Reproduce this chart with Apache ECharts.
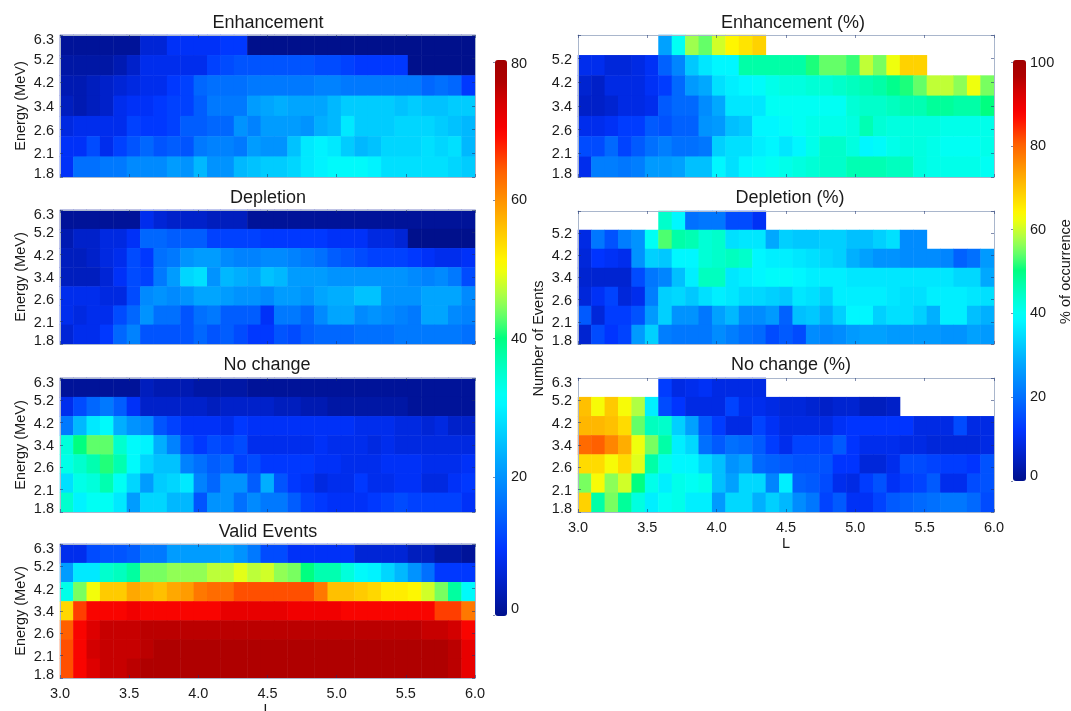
<!DOCTYPE html>
<html><head><meta charset="utf-8">
<style>html,body{margin:0;padding:0;background:#fff}#c{width:1071px;height:711px}</style>
<script src="https://cdn.jsdelivr.net/npm/echarts@6/dist/echarts.min.js"></script>
</head><body><div id="c"></div>
<script>
const energyLabels = ['1.8','2.1','2.6','3.4','4.2','5.2','6.3'];
const lTicks = [3.0,3.5,4.0,4.5,5.0,5.5,6.0];
const n = null;
// rows top (6.3 MeV) to bottom (1.8 MeV), 31 L bins per row
const enhancement = [
[1,1,1,1,1,1,6,6,9,9,9,9,10,10,0,0,0,0,0,0,0,0,0,0,0,0,0,0,0,0,0],
[2,2,2,2,3,5,8,8,8,8,8,11,12,13,13,13,13,13,13,12,12,11,10,10,10,10,0,0,0,0,0],
[3,3,4,5,6,7,8,8,10,11,15,16,16,16,17,17,17,17,17,18,18,17,17,17,17,17,17,15,16,15,10],
[4,3,4,5,8,9,9,10,11,11,14,17,17,17,21,22,23,22,22,22,24,26,26,26,26,25,26,25,25,26,26],
[7,8,8,8,8,11,10,10,11,14,14,15,15,20,18,21,21,21,20,23,24,29,26,26,26,27,27,27,26,25,24],
[9,9,12,8,11,13,15,13,14,13,17,18,18,17,21,20,20,25,29,30,29,26,24,25,27,27,27,28,27,28,24],
[9,16,16,17,17,19,19,19,21,20,24,20,20,24,25,26,26,27,29,30,31,31,31,30,28,28,28,28,28,27,26]];
const depletion = [
[1,1,1,1,1,1,8,6,5,5,5,4,4,4,1,1,1,1,1,1,1,1,1,1,1,1,1,1,1,1,1],
[3,5,5,7,7,9,15,15,14,14,14,11,11,11,11,10,10,10,10,10,9,9,9,7,7,6,0,0,0,0,0],
[4,4,5,7,8,12,10,16,17,20,21,21,19,18,18,19,19,18,17,16,14,13,12,11,11,11,10,9,8,8,9],
[4,4,4,6,9,12,11,17,21,27,28,20,24,23,22,25,24,21,21,21,20,20,20,20,20,20,19,18,19,17,12],
[8,8,8,7,7,12,19,20,19,20,22,22,21,20,20,19,21,21,20,22,23,23,25,25,20,20,20,22,22,22,19],
[8,7,8,8,12,15,20,16,16,13,16,17,14,14,14,9,17,17,15,19,22,22,19,20,19,18,17,22,22,19,18],
[6,8,8,10,15,18,13,13,13,13,15,13,14,12,10,10,13,12,14,15,15,15,16,16,16,17,17,17,17,17,16]];
const noChange = [
[1,1,1,1,1,1,4,3,3,3,2,2,2,2,1,1,1,1,1,1,1,1,1,1,1,1,1,1,1,1,1],
[8,12,15,17,14,9,5,5,5,5,5,4,5,5,5,5,4,4,3,3,2,2,2,2,2,2,1,1,1,1,1],
[17,24,29,31,23,20,19,13,11,9,9,9,8,10,9,9,9,9,9,9,9,9,8,8,8,7,7,6,7,5,5],
[34,40,43,43,35,31,30,23,18,12,10,12,11,12,8,8,8,8,8,9,8,8,8,7,8,7,7,7,7,7,7],
[33,35,37,41,37,31,27,25,25,18,16,14,15,11,12,10,10,10,10,9,9,8,8,8,9,9,9,8,8,8,9],
[28,33,34,37,32,27,21,26,27,29,18,15,20,20,14,23,13,10,9,7,8,8,10,8,8,9,9,7,7,9,10],
[35,30,32,32,29,21,27,27,24,24,13,20,20,16,19,17,17,14,11,10,9,9,9,10,11,12,11,11,11,11,9]];
const validEvents = [
[8,8,12,13,13,14,17,17,21,21,21,21,22,20,17,12,12,9,9,9,9,9,6,6,6,6,4,4,2,2,1],
[21,29,29,35,36,38,44,44,45,45,45,47,47,49,47,48,45,44,40,37,37,34,31,30,27,24,20,16,10,10,10],
[33,44,50,55,55,58,57,56,58,59,62,63,63,65,65,65,65,65,65,62,56,56,55,54,52,52,51,48,44,38,31],
[54,66,70,70,70,71,70,70,70,70,70,70,72,72,72,72,72,71,71,71,71,70,70,70,70,70,70,70,66,66,62],
[64,70,73,75,75,75,76,76,76,76,76,76,76,76,76,76,76,76,76,76,76,76,76,76,76,76,76,75,75,74,70],
[65,70,74,75,75,75,76,77,77,77,77,77,77,77,77,77,77,77,77,77,77,77,77,77,77,77,77,77,77,76,72],
[65,70,73,75,75,76,77,77,77,77,77,77,77,77,77,77,77,77,77,77,77,77,77,77,77,77,77,77,77,76,72]];
const enhancementPct = [
[n,n,n,n,n,n,27,40,57,54,60,64,66,68,n,n,n,n,n,n,n,n,n,n,n,n,n,n,n,n,n],
[10,10,8,8,9,11,18,23,32,36,38,38,47,47,47,47,47,51,54,54,52,59,55,62,68,68,n,n,n,n,n],
[7,6,9,9,9,11,13,19,26,28,35,37,38,39,41,42,42,43,43,44,45,46,47,49,51,54,59,59,56,62,55],
[6,6,7,9,9,10,17,19,19,24,28,36,36,36,40,40,40,40,40,40,43,44,44,45,46,46,48,48,47,47,50],
[10,10,11,13,13,17,16,18,18,25,26,31,32,38,38,39,40,41,41,41,42,46,43,42,42,42,42,41,41,41,41],
[15,15,19,14,17,20,22,20,20,21,33,35,35,37,38,36,38,41,44,44,42,38,39,41,42,42,41,40,40,40,41],
[10,22,22,21,22,26,26,27,31,31,38,35,38,39,40,41,42,43,44,44,46,46,46,45,45,42,41,41,41,41,40]];
const depletionPct = [
[n,n,n,n,n,n,44,38,20,21,21,15,15,11,n,n,n,n,n,n,n,n,n,n,n,n,n,n,n,n,n],
[9,21,16,22,25,40,53,47,46,43,44,35,36,36,28,33,32,32,33,33,31,31,33,35,24,24,n,n,n,n,n],
[8,12,11,10,25,33,32,38,38,43,44,45,44,38,37,37,36,35,34,33,29,27,25,25,24,24,24,23,18,20,26],
[7,7,7,7,15,21,23,31,37,45,45,36,37,38,39,39,38,37,37,37,36,36,36,36,36,36,36,36,34,34,28],
[8,11,14,8,10,22,33,34,32,35,37,36,34,34,33,32,36,35,33,37,37,37,37,36,35,35,37,37,37,36,35],
[17,8,13,13,16,26,33,25,25,21,27,30,24,24,26,18,31,32,29,33,38,38,33,35,35,33,29,37,37,31,29],
[7,15,12,14,26,33,22,21,21,21,24,22,20,19,15,17,15,24,23,24,26,27,27,26,26,26,26,25,25,27,26]];
const noChangePct = [
[n,n,n,n,n,n,13,9,10,11,9,9,9,9,n,n,n,n,n,n,n,n,n,n,n,n,n,n,n,n,n],
[70,63,69,63,58,37,15,12,9,9,9,14,10,10,9,8,8,7,6,7,7,5,5,6,n,n,n,n,n,n,n],
[71,71,70,67,54,45,44,33,27,17,13,9,9,14,11,9,9,9,9,11,12,12,12,12,12,9,9,9,15,9,9],
[79,80,76,72,62,55,47,37,34,20,17,20,19,17,13,10,14,14,14,17,12,10,10,10,9,9,8,8,8,8,9],
[67,67,63,67,61,47,41,38,38,34,31,25,27,19,18,17,16,16,16,12,12,8,8,10,15,15,14,13,13,12,16],
[55,63,56,60,50,41,37,41,40,41,31,27,34,34,23,37,18,17,15,10,9,13,16,11,13,14,17,10,10,15,16],
[68,47,55,48,42,37,40,41,37,37,26,34,34,29,33,30,24,21,14,17,11,11,14,17,18,19,20,21,21,19,15]];
const titles = ['Enhancement','Depletion','No change','Valid Events','Enhancement (%)','Depletion (%)','No change (%)'];
const panelValues = [enhancement,depletion,noChange,validEvents,enhancementPct,depletionPct,noChangePct];
const lBins = enhancement[0].map((_,i)=>'b'+i);
const breakFractions = [0,.06,.12,.2,.28,.33,.39,.45,.5,.53,.57,.63,.7,.8,.87,.93,.96,1];
const breakColors = ['#00108c','#0020c8','#0034ff','#0070ff','#00a8ff','#00d0ff','#00ffff','#00ffc0','#00ff80','#50ff70','#a0ff50','#ffff00','#ffc000','#ff6000','#ff0000','#d00000','#b00000','#a00000'];
function rampColor(t){
 let k=0; while(k<breakFractions.length-2&&t>breakFractions[k+1])k++;
 const f=(t-breakFractions[k])/(breakFractions[k+1]-breakFractions[k]);
 const a=parseInt(breakColors[k].slice(1),16),b=parseInt(breakColors[k+1].slice(1),16);
 const ch=s=>Math.round(((a>>s)&255)*(1-f)+((b>>s)&255)*f);
 return `rgb(${ch(16)},${ch(8)},${ch(0)})`;
}
const colorStops=[];for(let i=0;i<=50;i++)colorStops.push(rampColor(i/50));

const FF='"Liberation Sans",Arial,sans-serif', TC='#1a1a1a', BORDER='#a9b6cc', TICK='rgba(30,50,110,.55)';
const boxes=[
 {x:60,w:415,y:35,h:142,ty:22,tx:268},{x:60,w:415,y:210,h:134,ty:197,tx:268},{x:60,w:415,y:378,h:134,ty:364,tx:267},{x:60,w:415,y:544,h:134,ty:531,tx:268},
 {x:578,w:416,y:35,h:142,ty:22,tx:793},{x:578,w:416,y:211,h:133,ty:197,tx:790},{x:578,w:416,y:378,h:134,ty:364,tx:791}];
const opt={animation:false,backgroundColor:'#fff',textStyle:{fontFamily:FF},title:[],grid:[],xAxis:[],yAxis:[],series:[],
 visualMap:[
 {type:'continuous',min:0,max:80,seriesIndex:[0,1,2,3],left:495,top:60,itemWidth:12,itemHeight:556,padding:0,calculable:false,hoverLink:false,text:null,inRange:{color:colorStops}},
 {type:'continuous',min:0,max:100,seriesIndex:[4,5,6],left:1013,top:60,itemWidth:13,itemHeight:421,padding:0,calculable:false,hoverLink:false,text:null,inRange:{color:colorStops}}]};
const lab={fontFamily:FF,fontSize:14.5,color:TC};
boxes.forEach((b,i)=>{
 const isRight=i>=4, bottom=(i===3||i===6);
 opt.title.push({text:titles[i],left:b.tx,top:b.ty+1,textAlign:'center',textVerticalAlign:'middle',padding:0,textStyle:{fontFamily:FF,fontSize:18,fontWeight:'normal',color:TC}});
 opt.grid.push({left:b.x,top:b.y,width:b.w,height:b.h,containLabel:false,outerBoundsMode:'none',z:1});
 const base=opt.xAxis.length, ybase=opt.yAxis.length;
 // heat cell axes (hidden)
 opt.xAxis.push({type:'category',gridIndex:i,data:lBins,show:false});
 opt.yAxis.push({type:'category',gridIndex:i,data:energyLabels,show:false});
 // visible L scale bottom & top
 opt.xAxis.push({type:'value',gridIndex:i,position:'bottom',min:lTicks[0],max:lTicks[lTicks.length-1],interval:0.5,splitLine:{show:false},
  axisLine:{show:true,onZero:false,lineStyle:{color:BORDER,width:1}},axisTick:{show:true,inside:true,length:3,lineStyle:{color:TICK}},
  axisLabel:{show:bottom,margin:8,showMinLabel:true,showMaxLabel:true,formatter:v=>v.toFixed(1),...lab},
  name:bottom?'L':'',nameLocation:'middle',nameGap:bottom?24:0,nameTextStyle:lab,z:5});
 opt.xAxis.push({type:'value',gridIndex:i,position:'top',min:3,max:6,interval:0.5,splitLine:{show:false},
  axisLine:{show:true,onZero:false,lineStyle:{color:BORDER,width:1}},axisTick:{show:true,inside:true,length:3,lineStyle:{color:TICK}},axisLabel:{show:false},z:5});
 const skipTop=(i===4||i===5);
 opt.yAxis.push({type:'value',gridIndex:i,position:'left',min:0,max:6,interval:1,splitLine:{show:false},
  axisLine:{show:true,onZero:false,lineStyle:{color:BORDER,width:1}},axisTick:{show:true,inside:true,length:3,lineStyle:{color:TICK}},
  axisLabel:{margin:6,customValues:skipTop?[0.13,0.96,1.96,2.96,3.96,4.96]:[0.13,0.96,1.96,2.96,3.96,4.96,5.79],formatter:v=>energyLabels[Math.round(v)],...lab},
  name:isRight?'':'Energy (MeV)',nameLocation:'middle',nameGap:32,nameRotate:90,nameTextStyle:lab,z:5});
 opt.yAxis.push({type:'value',gridIndex:i,position:'right',min:0,max:6,interval:1,splitLine:{show:false},
  axisLine:{show:true,onZero:false,lineStyle:{color:BORDER,width:1}},axisTick:{show:true,inside:true,length:3,lineStyle:{color:TICK}},axisLabel:{show:false},z:5});
 const data=[];
 panelValues[i].forEach((row,r)=>row.forEach((v,c)=>{if(v!==null)data.push([c,energyLabels.length-1-r,v]);}));
 opt.series.push({type:'heatmap',xAxisIndex:base,yAxisIndex:ybase,data,silent:true,progressive:0,itemStyle:{borderWidth:0},emphasis:{disabled:true}});
});
// colour-bar scales
[{x:495,w:12,y:62,h:553,max:80,name:'Number of Events',gap:20,m:4,tops:[0.8,20,40,60,79.7]},{x:1013,w:13,y:62,h:419,max:100,name:'% of occurrence',gap:29,m:4,tops:[1.2,20,40,60,80,99.7]}].forEach(c=>{
 const g=opt.grid.length;
 opt.grid.push({left:c.x,top:c.y,width:c.w,height:c.h,outerBoundsMode:'none'});
 opt.xAxis.push({type:'value',gridIndex:g,show:false,min:0,max:1});
 opt.yAxis.push({type:'value',gridIndex:g,position:'right',min:0,max:c.max,interval:20,splitLine:{show:false},axisLine:{show:false},
  axisTick:{show:true,inside:true,length:2,lineStyle:{color:TICK}},
  axisLabel:{margin:c.m,customValues:c.tops,formatter:v=>String(Math.round(v/20)*20),...lab},
  name:c.name,nameLocation:'middle',nameGap:c.gap,nameRotate:90,nameTextStyle:lab});
});
const chart=echarts.init(document.getElementById('c'),null,{renderer:'canvas'});
chart.setOption(opt);
</script></body></html>
